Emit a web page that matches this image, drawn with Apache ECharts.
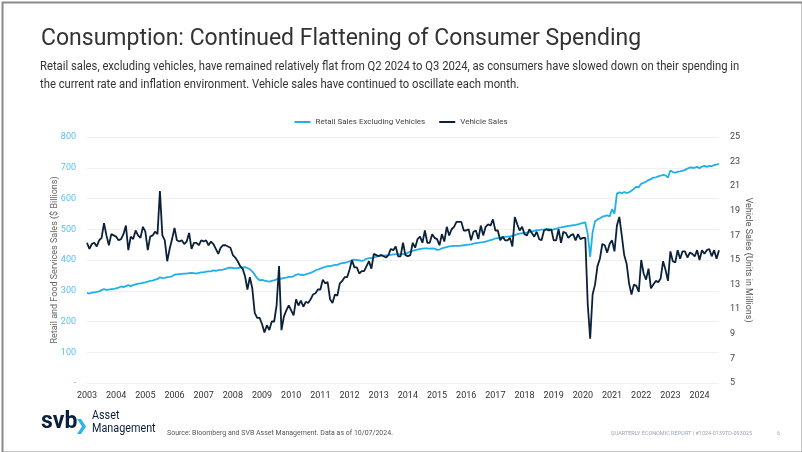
<!DOCTYPE html>
<html>
<head>
<meta charset="utf-8">
<script src="https://cdn.jsdelivr.net/npm/echarts@6/dist/echarts.min.js"></script>
<style>
html,body{margin:0;padding:0;background:#fff;}
#chart{width:802px;height:452px;}
</style>
</head>
<body>
<div id="chart"></div>
<script>
// ---- Data (monthly, Jan 2003 - Sep 2024) ----
const startYear = 2003;
const yearLabels = ['2003','2004','2005','2006','2007','2008','2009','2010','2011','2012','2013','2014','2015','2016','2017','2018','2019','2020','2021','2022','2023','2024'];

// Retail Sales Excluding Vehicles ($ Billions) - left axis
const retailSales = [
  293,291,294,295,296,298,302,305,303,304,305,306,   // 2003
  308,310,314,312,315,318,315,318,321,323,324,326,   // 2004
  327,330,332,333,336,338,344,341,342,344,345,347,   // 2005
  352,353,354,355,356,356,357,358,357,356,358,360,   // 2006
  360,362,363,363,366,365,367,368,369,371,374,375,   // 2007
  374,373,374,375,376,377,374,370,363,352,341,334,   // 2008
  335,333,331,330,332,334,337,340,339,342,343,345,   // 2009
  345,347,352,354,352,351,353,356,358,362,366,369,   // 2010
  372,375,378,380,380,382,384,384,388,390,391,393,   // 2011
  396,399,401,400,399,397,399,404,406,406,409,410,   // 2012
  414,416,414,415,416,417,418,418,418,419,420,419,   // 2013
  424,427,430,432,434,436,437,438,438,437,438,437,   // 2014
  433,434,438,440,442,444,445,446,446,446,447,448,   // 2015
  449,450,451,453,455,456,457,458,460,462,465,467,   // 2016
  470,471,472,474,475,476,477,478,481,484,486,487,   // 2017
  488,489,491,493,495,497,497,499,499,500,501,496,   // 2018
  500,501,505,506,508,509,511,512,513,514,516,518,   // 2019
  521,522,484,410,490,526,532,536,541,543,545,542,   // 2020
  565,551,616,620,617,621,618,620,625,632,638,637,   // 2021
  648,651,655,660,663,668,669,672,674,677,675,668,   // 2022
  691,686,684,687,688,690,693,697,701,700,700,703,   // 2023
  698,704,706,703,706,705,709,710,713                // 2024
];

// Vehicle Sales (Units in Millions) - right axis
const vehicleSales = [
  16.4,15.9,16.3,16.4,16.1,16.6,16.8,18.0,17.0,16.2,17.1,17.0,   // 2003
  16.9,16.6,16.7,17.1,17.8,15.8,16.9,16.7,17.4,17.0,16.8,17.7,   // 2004
  17.3,15.8,16.9,17.0,17.3,17.1,20.6,17.0,16.6,14.9,15.9,16.7,   // 2005
  17.6,16.6,16.5,16.6,16.3,16.5,17.2,15.9,16.4,16.4,16.2,16.6,   // 2006
  16.5,16.6,16.2,16.5,16.3,15.9,15.5,16.0,16.2,16.2,16.1,16.0,   // 2007
  15.4,15.2,14.9,14.5,14.3,13.7,12.6,13.6,12.7,10.7,10.3,10.3,   // 2008
  9.8,9.1,9.7,9.3,10.0,10.0,11.3,14.5,9.3,10.4,10.9,11.3,        // 2009
  10.9,10.5,11.8,11.3,11.7,11.2,11.6,11.5,11.8,12.2,12.3,12.6,   // 2010
  12.6,13.4,13.1,13.2,11.8,11.5,12.2,12.1,13.1,13.3,13.6,13.6,   // 2011
  14.2,15.0,14.4,14.4,13.9,14.1,14.1,14.5,14.9,14.3,15.5,15.4,   // 2012
  15.3,15.4,15.3,15.2,15.4,15.9,15.8,16.1,15.3,15.3,16.4,15.4,   // 2013
  15.3,15.4,16.4,16.0,16.7,16.9,16.4,17.4,16.4,16.4,17.1,16.8,   // 2014
  16.7,16.2,17.1,16.5,17.7,17.0,17.5,17.7,18.1,18.1,18.1,17.4,   // 2015
  17.4,17.5,16.6,17.3,17.4,16.7,17.8,17.0,17.7,17.9,17.8,18.3,   // 2016
  17.4,17.4,16.6,16.9,16.6,16.6,16.8,16.1,18.5,17.9,17.4,17.7,   // 2017
  17.1,17.0,17.5,17.2,16.9,17.3,16.7,16.6,17.4,17.5,17.4,17.5,   // 2018
  16.6,16.6,17.5,16.4,17.3,17.2,16.8,17.0,17.1,16.6,17.1,16.7,   // 2019
  16.8,16.8,11.4,8.6,12.2,13.0,14.5,15.1,16.3,16.2,15.6,16.3,    // 2020
  16.6,15.7,17.8,18.5,17.0,15.4,14.7,13.1,12.2,13.0,12.9,12.4,   // 2021
  15.0,13.9,13.4,14.3,12.7,13.0,13.3,13.2,13.5,14.9,14.2,13.3,   // 2022
  15.7,14.9,14.8,15.8,15.1,15.7,15.7,15.2,15.6,15.5,15.3,15.8,   // 2023
  15.0,15.8,15.5,15.8,15.9,15.3,15.8,15.1,15.8                   // 2024
];

const leftTicks = [0,100,200,300,400,500,600,700,800];
const rightTicks = [5,7,9,11,13,15,17,19,21,23,25];

// month categories
const months = [];
for (let i = 0; i < retailSales.length; i++) {
  const y = startYear + Math.floor(i / 12);
  const m = (i % 12) + 1;
  months.push(y + '-' + (m < 10 ? '0' + m : m));
}

const FONT = 'Roboto, "Noto Sans", sans-serif';
const chart = echarts.init(document.getElementById('chart'), null, {renderer: 'canvas'});

chart.setOption({
  backgroundColor: '#ffffff',
  animation: false,
  title: [
    {
      text: 'Consumption: Continued Flattening of Consumer Spending',
      left: 36, top: 23,
      textStyle: {fontFamily: FONT, fontSize: 23, fontWeight: 'normal', color: '#333333'}
    }
  ],
  legend: {
    top: 113, left: 'center',
    icon: 'rect', itemWidth: 16, itemHeight: 2, itemGap: 14,
    textStyle: {fontFamily: FONT, fontSize: 8, color: '#444444'},
    data: ['Retail Sales Excluding Vehicles', 'Vehicle Sales']
  },
  grid: {left: 87, right: 83, top: 137, bottom: 69, containLabel: false},
  xAxis: {
    type: 'category',
    data: months,
    boundaryGap: false,
    axisLine: {show: false},
    axisTick: {show: false},
    splitLine: {show: false},
    axisLabel: {
      interval: function (idx) { return idx % 12 === 0; },
      formatter: function (v) { const y = v.slice(0, 4); return yearLabels.indexOf(y) >= 0 ? y : ''; },
      color: '#333333', fontSize: 9, fontFamily: FONT, margin: 8
    }
  },
  yAxis: [
    {
      type: 'value', min: leftTicks[0], max: leftTicks[leftTicks.length - 1], interval: 100,
      name: 'Retail and Food Services Sales ($ Billions)',
      nameLocation: 'middle', nameRotate: 90, nameGap: 28, nameMoveOverlap: false,
      nameTextStyle: {color: '#666666', fontSize: 9, fontFamily: FONT},
      axisLine: {show: false}, axisTick: {show: false},
      axisLabel: {
        color: '#5BC0EB', fontSize: 9, fontFamily: FONT, margin: 11,
        formatter: function (v) { return v === 0 ? '-' : String(v); }
      },
      splitLine: {show: true, lineStyle: {color: '#f0f0f0', width: 1}}
    },
    {
      type: 'value', min: rightTicks[0], max: rightTicks[rightTicks.length - 1], interval: 2,
      name: 'Vehicle Sales (Units in Millions)',
      nameLocation: 'middle', nameRotate: -90, nameGap: 25, nameMoveOverlap: false,
      nameTextStyle: {color: '#555555', fontSize: 9, fontFamily: FONT},
      axisLine: {show: false}, axisTick: {show: false},
      axisLabel: {color: '#444444', fontSize: 9, fontFamily: FONT, margin: 11},
      splitLine: {show: false}
    }
  ],
  series: [
    {
      name: 'Retail Sales Excluding Vehicles',
      type: 'line', yAxisIndex: 0,
      data: retailSales,
      showSymbol: false, symbol: 'none',
      lineStyle: {color: '#1FB0EA', width: 1.8},
      itemStyle: {color: '#1FB0EA'},
      z: 2
    },
    {
      name: 'Vehicle Sales',
      type: 'line', yAxisIndex: 1,
      data: vehicleSales,
      showSymbol: false, symbol: 'none',
      lineStyle: {color: '#0B2139', width: 1.8},
      itemStyle: {color: '#0B2139'},
      z: 3
    }
  ],
  graphic: [
    {type: 'rect', left: 0, top: 0, z: 100, silent: true,
     shape: {x: 1, y: 1, width: 800, height: 450},
     style: {fill: 'none', stroke: '#8a8a8a', lineWidth: 2}},
    {type: 'text', x: 40, y: 58, scaleX: 0.9, z: 10,
     style: {text: 'Retail sales, excluding vehicles, have remained relatively flat from Q2 2024 to Q3 2024, as consumers have slowed down on their spending in\nthe current rate and inflation environment. Vehicle sales have continued to oscillate each month.',
             font: '12.5px Roboto, sans-serif', fill: '#333333', lineHeight: 18}},
    {type: 'text', left: 41, top: 411, z: 10,
     style: {text: 'svb', font: 'bold 23px Roboto, sans-serif', fill: '#0B1E3F'}},
    {type: 'polygon', left: 77, top: 419, z: 10,
     shape: {points: [[0,0],[4,0],[9,7.5],[4,15],[0,15],[5,7.5]]},
     style: {fill: '#2BB3EC'}},
    {type: 'text', x: 92, y: 410, scaleX: 0.9, z: 10,
     style: {text: 'Asset', font: '12px Roboto, sans-serif', fill: '#0B1E3F'}},
    {type: 'text', x: 92, y: 423, scaleX: 0.9, z: 10,
     style: {text: 'Management', font: '12px Roboto, sans-serif', fill: '#0B1E3F'}},
    {type: 'text', left: 167, top: 430, z: 10,
     style: {text: 'Source: Bloomberg and SVB Asset Management. Data as of 10/07/2024.', font: '7px Roboto, sans-serif', fill: '#555555'}},
    {type: 'text', right: 50, top: 431, z: 10,
     style: {text: 'QUARTERLY ECONOMIC REPORT | #1024-0139TD-093025', font: '5.5px Roboto, sans-serif', fill: '#9aa6b2'}},
    {type: 'text', right: 22, top: 431, z: 10,
     style: {text: '6', font: '5.5px Roboto, sans-serif', fill: '#9aa6b2'}}
  ]
});
</script>
</body>
</html>
